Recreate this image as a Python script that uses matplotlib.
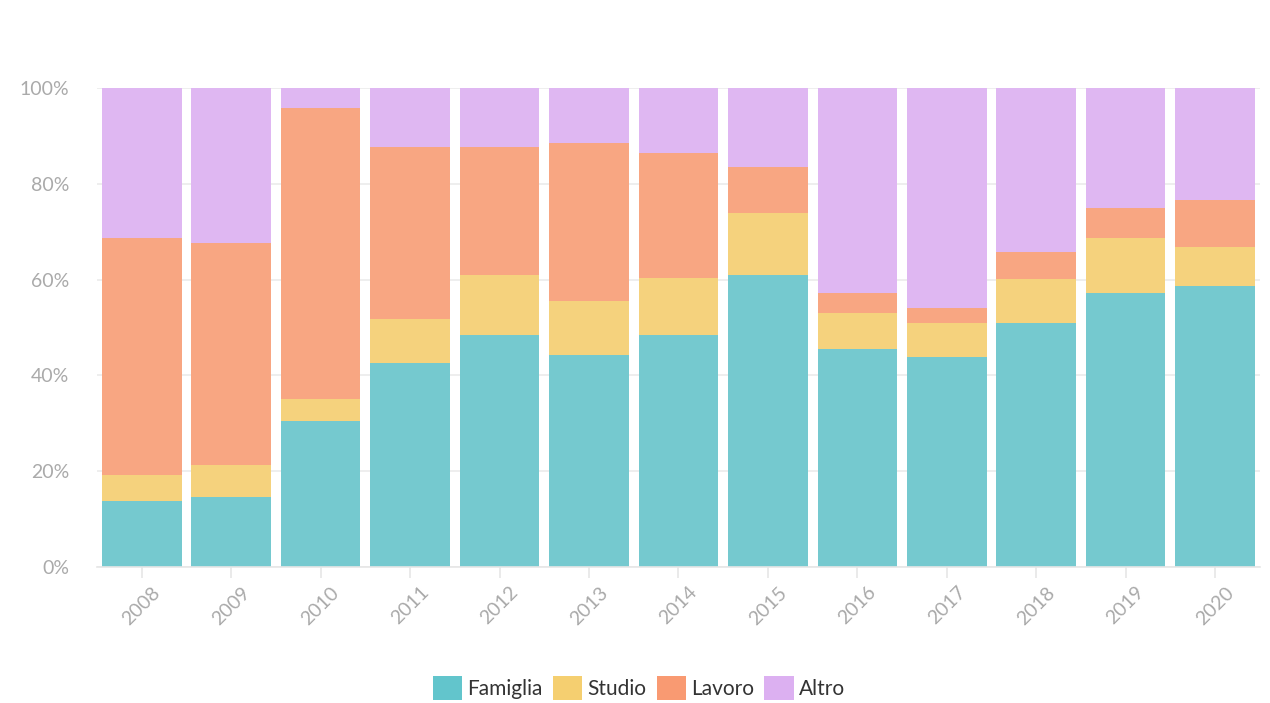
import numpy as np
import matplotlib.pyplot as plt
from matplotlib.patches import Patch

# === Data (percent shares per year) ===
years = ["2008", "2009", "2010", "2011", "2012", "2013", "2014",
         "2015", "2016", "2017", "2018", "2019", "2020"]
famiglia = [13.8, 14.6, 30.5, 42.6, 48.4, 44.3, 48.4, 61.0, 45.5, 43.8, 50.9, 57.2, 58.7]
studio = [5.4, 6.7, 4.6, 9.2, 12.6, 11.2, 11.9, 12.9, 7.5, 7.1, 9.2, 11.5, 8.1]
lavoro = [49.5, 46.3, 60.7, 35.9, 26.7, 33.0, 26.1, 9.6, 4.2, 3.2, 5.7, 6.2, 9.8]
altro = [31.3, 32.4, 4.2, 12.3, 12.3, 11.5, 13.6, 16.5, 42.8, 45.9, 34.2, 25.1, 23.4]

series = ["Famiglia", "Studio", "Lavoro", "Altro"]
bar_colors = ["#75c9cf", "#f5d27d", "#f8a682", "#dfb7f2"]
legend_colors = ["#62c5cc", "#f5cf70", "#f99a72", "#dcb0f1"]

plt.rcParams["font.family"] = ["Lato", "DejaVu Sans"]

fig = plt.figure(figsize=(12.7, 7.03), dpi=100)
ax = fig.add_axes([0.0764, 0.1935, 0.9156, 0.6813])

x = np.arange(len(years))
bottom = np.zeros(len(years))
for name, vals, col in zip(series, [famiglia, studio, lavoro, altro], bar_colors):
    vals = np.array(vals)
    ax.bar(x, vals, bottom=bottom, width=0.89, color=col, label=name, zorder=2)
    bottom += vals

ax.set_xlim(-0.5, len(years) - 0.5)
ax.set_ylim(0, 100)
ax.set_yticks([0, 20, 40, 60, 80, 100])
ax.set_yticklabels([f"{v}%" for v in [0, 20, 40, 60, 80, 100]])
ax.set_xticks(x)
ax.set_xticklabels(years, rotation=45, ha="center")

ax.grid(axis="y", color="#ebebeb", linewidth=1.2, zorder=0)
for s in ["top", "right", "left"]:
    ax.spines[s].set_visible(False)
ax.spines["bottom"].set_color("#e6e6e6")
ax.spines["bottom"].set_linewidth(1.2)
ax.tick_params(axis="y", length=0, pad=20, labelsize=14, labelcolor="#aaaaaa")
ax.tick_params(axis="x", length=8, width=1.2, color="#e6e6e6", pad=4,
               labelsize=14, labelcolor="#aaaaaa")

handles = [Patch(facecolor=c, edgecolor="none", label=n) for n, c in zip(series, legend_colors)]
fig.legend(handles=handles, loc="center", bbox_to_anchor=(0.503, 0.021), ncol=4,
           frameon=False, fontsize=15, handlelength=1.4, handleheight=1.4,
           handletextpad=0.25, columnspacing=0.5, labelcolor="#333333")

fig.savefig("out.png", dpi=100)
